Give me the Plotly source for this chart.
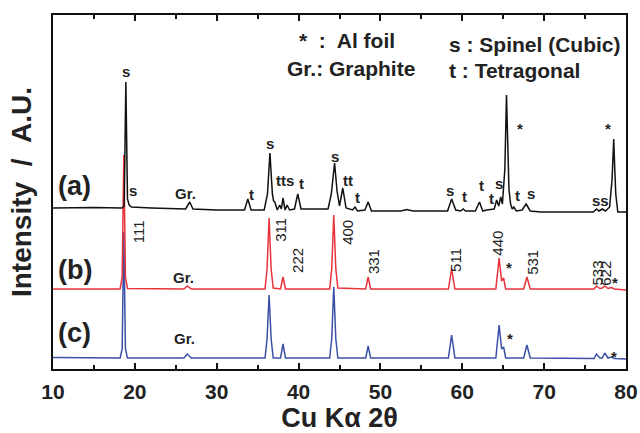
import plotly.graph_objects as go

# ---- data: vertices (2theta, intensity A.U., stacked) ----
a_x = [10, 15, 18.4, 18.7, 18.9, 19.1, 19.3, 19.6, 22, 26.2, 26.7, 27.1, 30, 33.4, 33.8, 34.2,
       35.8, 36.2, 36.5, 36.8, 36.95, 37.1, 37.4, 37.7, 37.9, 38.1, 38.35, 38.6, 38.9, 39.5, 39.9, 40.3,
       43.6, 44.0, 44.4, 44.7, 45.0, 45.4, 45.8, 46.6, 46.9, 47.2, 48.1, 48.5, 48.9, 52.5, 53.2, 54,
       58.2, 58.7, 59.2, 59.8, 60.1, 60.4, 61.6, 62.1, 62.5, 63.0, 63.9, 64.2, 64.45, 64.7, 64.9, 65.2,
       65.4, 65.55, 65.7, 65.9, 66.1, 66.3, 66.6, 67.3, 67.8, 68.3, 69.6, 76.0, 76.4, 76.7, 77.1, 77.5,
       78.0, 78.3, 78.5, 78.62, 78.75, 79.0, 80]
a_y = [161, 161.5, 161, 163, 287, 170, 164, 162, 161, 160, 167, 160, 159, 159, 170, 159,
       159, 175, 216, 175, 168, 167, 159, 164, 160, 171, 159, 164, 159, 160, 175, 160,
       160, 175, 206, 178, 163, 181, 161, 159, 162, 158, 159, 167, 158, 158, 159.5, 158,
       158, 170, 159, 158, 160, 158, 158, 167, 158, 159, 160, 169, 163, 172, 165, 200,
       274, 222, 180, 165, 160, 162, 158, 159, 165, 158, 157, 157, 160, 158, 160, 158,
       162, 190, 230, 202, 175, 157, 157]

b_x = [10, 18.2, 18.45, 18.65, 18.85, 19.1, 26.0, 26.4, 26.9, 35.9, 36.15, 36.4, 36.65, 36.9,
       37.8, 38.1, 38.4, 43.8, 44.05, 44.3, 44.55, 44.8, 48.2, 48.5, 48.8, 58.3, 58.7, 59.1,
       64.1, 64.5, 64.8, 65.05, 65.3, 67.5, 67.9, 68.3, 76.1, 76.4, 76.8, 77.1, 77.4, 77.8,
       78.2, 78.6, 80]
b_y = [80, 80, 92, 214, 92, 80.5, 80, 83, 80, 80, 100, 151, 100, 81,
       80, 92, 80, 80, 100, 154, 100, 81, 80, 92, 80, 80, 100, 80,
       80, 111, 88, 91, 80, 80, 92, 80, 80, 83, 80.5, 81, 83, 80.5,
       81.5, 80, 79]

c_x = b_x
c_y = [11.5, 11, 20, 137, 20, 11, 11, 15, 11, 11, 30, 74, 30, 11,
       11, 25, 11, 11, 30, 82, 30, 11, 11, 23, 11, 11, 34, 11,
       11, 44, 20, 22, 11, 11, 24, 11, 10.5, 15, 11, 11, 16, 11,
       12, 10.5, 10]

# peak labels: (text, 2theta, intensity)
a_labels = [("s", 18.9, 298), ("s", 19.8, 179), ("Gr.", 26.2, 176), ("t", 34.2, 175),
            ("s", 36.5, 226), ("tts", 38.3, 189), ("t", 40.4, 186), ("s", 44.4, 213),
            ("tt", 46.0, 189), ("t", 47.2, 172), ("s", 58.5, 179), ("t", 60.3, 173),
            ("t", 62.4, 184), ("t", 63.6, 171), ("s", 64.5, 186), ("*", 67.0, 241),
            ("t", 66.8, 174), ("s", 68.4, 176), ("ss", 76.9, 169), ("*", 77.8, 241)]
b_labels = [("111", 20.4, 137), ("311", 37.7, 139), ("222", 39.8, 109), ("400", 45.9, 137),
            ("331", 49.1, 107), ("511", 59.1, 109), ("440", 64.2, 126), ("531", 68.5, 107),
            ("533", 76.4, 96), ("622", 77.4, 96)]
b_other = [("Gr.", 25.9, 92), ("*", 65.7, 102), ("*", 78.7, 87)]
c_labels = [("Gr.", 26.1, 31), ("*", 65.8, 31), ("*", 78.5, 13)]
series_tags = [("(a)", 183), ("(b)", 99), ("(c)", 36)]
legend_lines = [("*  :  Al foil", 39.8, 329), ("Gr.: Graphite", 38.3, 301),
                ("s : Spinel (Cubic)", 58.1, 325), ("t : Tetragonal", 58.1, 299)]

FONT = "Liberation Sans"
TXT = "#222222"

fig = go.Figure()
fig.add_trace(go.Scatter(x=c_x, y=c_y, mode="lines", line=dict(color="#3b50a6", width=1.5)))
fig.add_trace(go.Scatter(x=b_x, y=b_y, mode="lines", line=dict(color="#e8333b", width=1.5)))
fig.add_trace(go.Scatter(x=a_x, y=a_y, mode="lines", line=dict(color="#111111", width=1.5)))

ann = []
for t, x, y in a_labels + b_other + c_labels:
    ann.append(dict(x=x, y=y, text="<b>%s</b>" % t, showarrow=False, xanchor="center", yanchor="middle",
                    font=dict(family=FONT, size=15, color=TXT)))
for t, x, y in b_labels:
    ann.append(dict(x=x, y=y, text=t, showarrow=False, textangle=-90, xanchor="center",
                    yanchor="middle", font=dict(family=FONT, size=15, color=TXT)))
for t, y in series_tags:
    ann.append(dict(x=10.35, y=y, text="<b>%s</b>" % t, showarrow=False, xanchor="left",
                    yanchor="middle", font=dict(family=FONT, size=27, color=TXT)))
for t, x, y in legend_lines:
    ann.append(dict(x=x, y=y, text="<b>%s</b>" % t, showarrow=False, xanchor="left",
                    yanchor="middle", font=dict(family=FONT, size=21, color=TXT)))

fig.update_layout(
    width=640, height=433,
    margin=dict(l=53, r=14, t=15, b=64),
    paper_bgcolor="white", plot_bgcolor="white",
    showlegend=False,
    annotations=ann,
    xaxis=dict(range=[10, 80], tickmode="array", tickvals=list(range(10, 81, 10)),
               ticks="inside", ticklen=6, tickwidth=2, tickcolor="#111",
               minor=dict(ticks="inside", ticklen=4, tickwidth=2, tickcolor="#111", dtick=5),
               showline=True, linecolor="#111", linewidth=2, mirror="allticks",
               showgrid=False, zeroline=False, automargin=False, ticklabelstandoff=3,
               tickfont=dict(family=FONT, size=21, color=TXT, weight="bold"),
               title=dict(text="<b>Cu K\u03b1 2\u03b8</b>", font=dict(family=FONT, size=27, color=TXT),
                          standoff=5)),
    yaxis=dict(range=[0, 354], showticklabels=False, ticks="", showline=True, linecolor="#111",
               linewidth=2, mirror=True, showgrid=False, zeroline=False, automargin=False,
               title=dict(text="<b>Intensity \u00a0/ \u00a0A.U.</b>",
                          font=dict(family=FONT, size=28, color=TXT), standoff=11)),
)
fig.write_html("out.html", config={"displayModeBar": False},
               post_script="document.body.style.margin='0px';")
